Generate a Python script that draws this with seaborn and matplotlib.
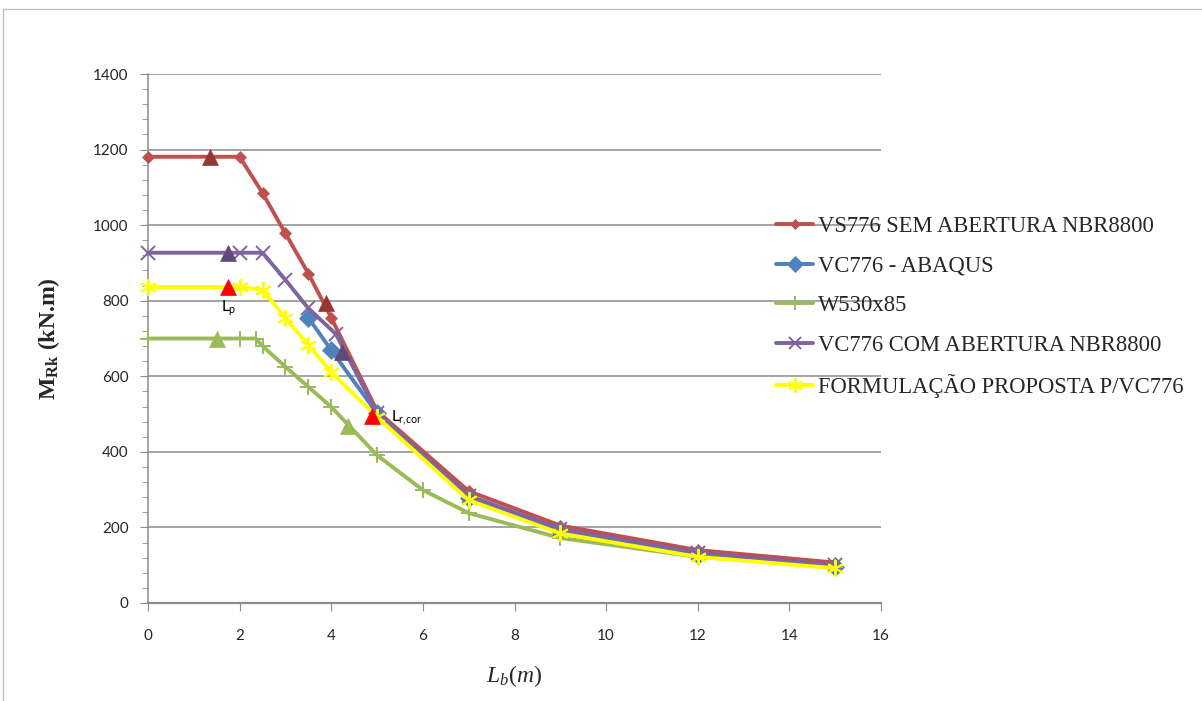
import numpy as np
import pandas as pd
import matplotlib
matplotlib.use("Agg")
import matplotlib.pyplot as plt
import seaborn as sns
from matplotlib.lines import Line2D

# Unbraced length L_b (m) and nominal moment M_Rk (kN.m) per beam
vs_sem_x = [0, 2, 2.5, 3, 3.5, 4, 5, 7, 9, 12, 15]
vs_sem_y = [1181, 1181, 1085, 978, 872, 755, 508, 296, 205, 140, 107]

abaqus_x = [3.5, 4, 5, 7, 9, 12, 15]
abaqus_y = [755, 669, 502, 278, 190, 128, 95]

w530_x = [0, 2, 2.35, 2.5, 3, 3.5, 4, 5, 6, 7, 9, 12, 15]
w530_y = [700, 700, 700, 680, 625, 572, 519, 391, 299, 238, 172, 122, 96]

vc_com_x = [0, 2, 2.5, 3, 3.5, 4.1, 5, 7, 9, 12, 15]
vc_com_y = [927, 927, 927, 855, 780, 712, 503, 284, 196, 133, 100]

formula_x = [0, 2, 2.5, 3, 3.5, 4, 5, 7, 9, 12, 15]
formula_y = [836, 836, 829, 754, 683, 611, 492, 272, 184, 122, 92]

# Limit lengths Lp / Lr marked with triangles
lim_sem_x, lim_sem_y = [1.35, 3.89], [1181, 794]
lim_com_x, lim_com_y = [1.75, 4.23], [927, 664]
lim_form_x, lim_form_y = [1.75, 4.9], [836, 495]
lim_w_x, lim_w_y = [1.5, 4.37], [700, 468]

labels = [
    "VS776 SEM ABERTURA NBR8800",
    "VC776 - ABAQUS",
    "W530x85",
    "VC776 COM ABERTURA NBR8800",
    "FORMULAÇÃO PROPOSTA P/VC776",
]

sns.set_style("white")
plt.rcParams["font.family"] = ["Lato", "DejaVu Sans"]
plt.rcParams["mathtext.fontset"] = "custom"
plt.rcParams["mathtext.rm"] = "Liberation Serif"
plt.rcParams["mathtext.it"] = "Liberation Serif:italic"
plt.rcParams["mathtext.bf"] = "Liberation Serif:bold"

fig = plt.figure(figsize=(12.02, 7.01), dpi=100)
ax = fig.add_axes([148 / 1202, 1 - 603 / 701, (881 - 148) / 1202, (603 - 74) / 701])

series = [
    (vs_sem_x, vs_sem_y, "#C0504D", "D", 6, labels[0]),
    (abaqus_x, abaqus_y, "#4F81BD", "D", 9, labels[1]),
    (w530_x, w530_y, "#9BBB59", "+", 11, labels[2]),
    (vc_com_x, vc_com_y, "#8064A2", "x", 10, labels[3]),
    (formula_x, formula_y, "#FFFF00", (6, 2, 0), 12, labels[4]),
]

handles = []
for xs, ys, col, mk, ms, lab in series:
    thin = mk in ("+", "x") or isinstance(mk, tuple)
    mew = 1.4 if thin else 0.5
    df = pd.DataFrame({"Lb": xs, "M": ys})
    sns.lineplot(data=df, x="Lb", y="M", ax=ax, color=col, linewidth=2.8,
                 marker=mk, markersize=ms, markeredgecolor=col,
                 markeredgewidth=mew, sort=False, legend=False,
                 clip_on=False, zorder=3)
    handles.append(Line2D([], [], color=col, linewidth=2.8, marker=mk,
                          markersize=ms * 0.9, markeredgecolor=col,
                          markeredgewidth=mew))

for xs, ys, col in [(lim_sem_x, lim_sem_y, "#953735"),
                    (lim_com_x, lim_com_y, "#5F497A"),
                    (lim_form_x, lim_form_y, "#FF0000"),
                    (lim_w_x, lim_w_y, "#9BBB59")]:
    sns.scatterplot(x=xs, y=ys, ax=ax, marker="^", s=130, color=col,
                    edgecolor=col, linewidth=0.5, zorder=4, legend=False)

ax.text(1.6, 805, r"L$_\mathregular{p}$", fontsize=11, ha="left", va="top",
        color="black")
ax.text(5.3, 490, r"L$_\mathregular{r{,}cor}$", fontsize=11, ha="left",
        va="center", color="black")

ax.set_xlim(0, 16)
ax.set_ylim(0, 1400)
ax.set_xticks(np.arange(0, 17, 2))
ax.set_yticks(np.arange(0, 1401, 200))
ax.set_yticks(np.arange(0, 1401, 40), minor=True)
ax.yaxis.grid(True, which="major", color="#8C8C8C", linewidth=1.1)
ax.xaxis.grid(False)
for s in ["top", "right"]:
    ax.spines[s].set_visible(False)
ax.spines["left"].set_color("#8C8C8C")
ax.spines["bottom"].set_color("#8C8C8C")
ax.spines["left"].set_linewidth(1.1)
ax.spines["bottom"].set_linewidth(1.6)
ax.tick_params(axis="y", which="major", direction="out", length=6, color="#8C8C8C",
               left=True, labelsize=11, pad=8)
ax.tick_params(axis="y", which="minor", direction="out", length=4, color="#8C8C8C", left=True)
ax.tick_params(axis="x", which="major", direction="out", length=6, color="#8C8C8C",
               bottom=True, labelsize=11, pad=13)

ax.set_xlabel(r"$L_b(m)$", fontsize=17, labelpad=14)
ax.set_ylabel(r"$\mathbf{M}_{\mathbf{Rk}}$ (kN.m)", fontsize=17, labelpad=22,
              family="Liberation Serif", fontweight="bold")

fig.legend(handles, labels, loc="upper left",
           bbox_to_anchor=(776 / 1202, 1 - 216 / 701),
           frameon=False, prop={"family": "Liberation Serif", "size": 16.3},
           handlelength=1.65, handletextpad=0.2, labelspacing=0.82,
           borderaxespad=0, borderpad=0)

# chart frame
fig.add_artist(Line2D([3 / 1202, 3 / 1202], [0, 1 - 9 / 701], color="#BFBFBF", linewidth=1))
fig.add_artist(Line2D([3 / 1202, 1], [1 - 9 / 701, 1 - 9 / 701], color="#BFBFBF", linewidth=1))

fig.savefig("out.png", dpi=100)
